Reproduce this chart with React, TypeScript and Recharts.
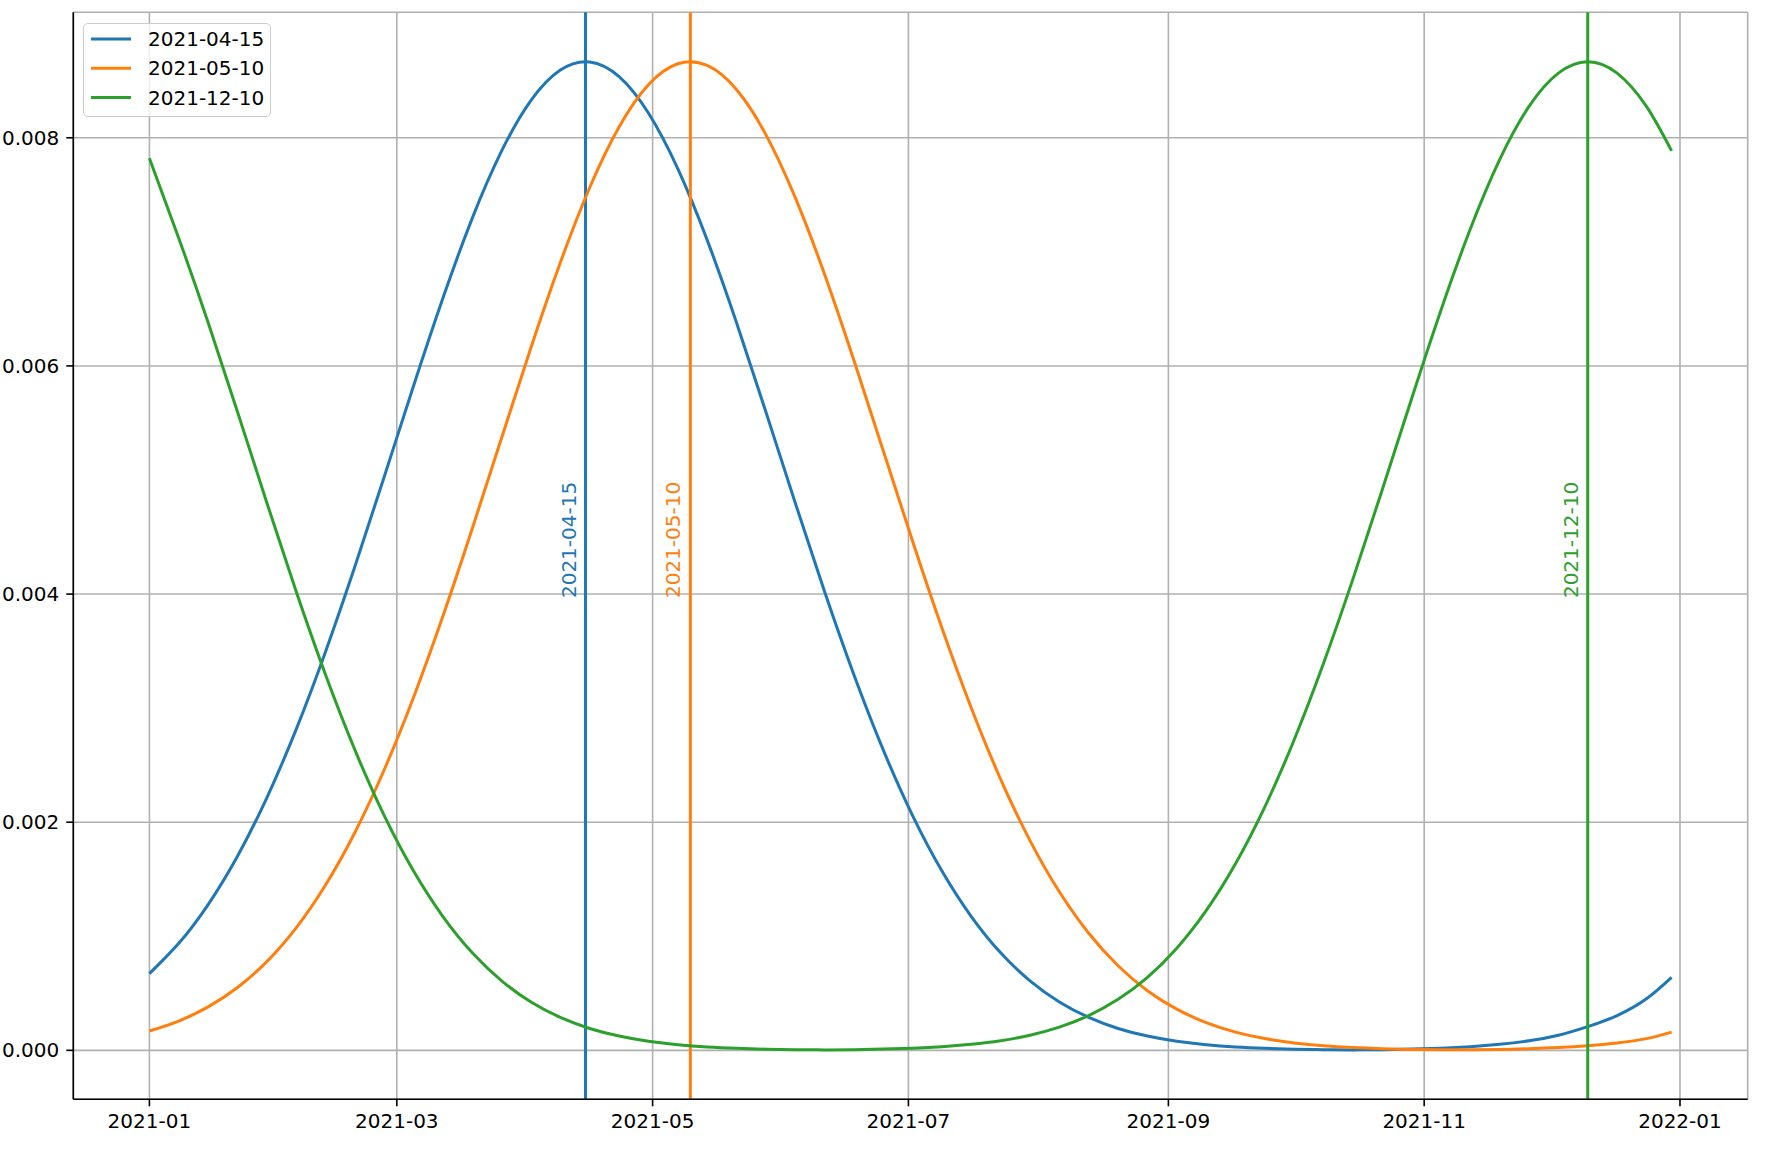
import React from 'react';
import {
  LineChart,
  Line,
  XAxis,
  YAxis,
  CartesianGrid,
  ReferenceLine,
  ReferenceDot,
  Legend,
} from 'recharts';

// ---- data ----
const dates = [
  '2021-01-01', '2021-01-08', '2021-01-15', '2021-01-22', '2021-01-29',
  '2021-02-05', '2021-02-12', '2021-02-19', '2021-02-26', '2021-03-05',
  '2021-03-12', '2021-03-19', '2021-03-26', '2021-04-02', '2021-04-09',
  '2021-04-16', '2021-04-23', '2021-04-30', '2021-05-07', '2021-05-14',
  '2021-05-21', '2021-05-28', '2021-06-04', '2021-06-11', '2021-06-18',
  '2021-06-25', '2021-07-02', '2021-07-09', '2021-07-16', '2021-07-23',
  '2021-07-30', '2021-08-06', '2021-08-13', '2021-08-20', '2021-08-27',
  '2021-09-03', '2021-09-10', '2021-09-17', '2021-09-24', '2021-10-01',
  '2021-10-08', '2021-10-15', '2021-10-22', '2021-10-29', '2021-11-05',
  '2021-11-12', '2021-11-19', '2021-11-26', '2021-12-03', '2021-12-10',
  '2021-12-17', '2021-12-24', '2021-12-30',
];

const seriesApr15 = [
  0.000673, 0.000938, 0.001278, 0.001702, 0.002214,
  0.002814, 0.003495, 0.004241, 0.005028, 0.005826,
  0.006595, 0.007296, 0.007885, 0.008328, 0.008594,
  0.008665, 0.008537, 0.008218, 0.00773, 0.007105,
  0.006381, 0.005599, 0.004801, 0.004022, 0.003293,
  0.002634, 0.002058, 0.001572, 0.001173, 0.000855,
  0.000609, 0.000424, 0.000289, 0.000192, 0.000125,
  0.000079, 0.000049, 0.00003, 0.000018, 0.00001,
  0.000006, 0.000004, 0.000006, 0.000011, 0.000019,
  0.000032, 0.000053, 0.000084, 0.000133, 0.000208,
  0.000305, 0.000452, 0.00064,
];

const seriesMay10 = [
  0.00017, 0.000257, 0.000381, 0.000551, 0.000778,
  0.001074, 0.001449, 0.00191, 0.00246, 0.003096,
  0.003807, 0.004575, 0.005371, 0.006161, 0.006906,
  0.007564, 0.008095, 0.008465, 0.008649, 0.008634,
  0.008423, 0.008028, 0.007477, 0.006804, 0.00605,
  0.005257, 0.004463, 0.003702, 0.003001, 0.002376,
  0.001839, 0.00139, 0.001027, 0.000742, 0.000523,
  0.000361, 0.000243, 0.00016, 0.000103, 0.000065,
  0.00004, 0.000024, 0.000014, 0.000008, 0.000005,
  0.000005, 0.000008, 0.000014, 0.000024, 0.00004,
  0.000065, 0.000103, 0.00016,
];

const seriesDec10 = [
  0.00782, 0.00712, 0.006381, 0.005599, 0.004801,
  0.004022, 0.003293, 0.002634, 0.002058, 0.001572,
  0.001173, 0.000855, 0.000609, 0.000424, 0.000289,
  0.000192, 0.000125, 0.000079, 0.000049, 0.00003,
  0.000018, 0.00001, 0.000006, 0.000004, 0.000006,
  0.000011, 0.000019, 0.000032, 0.000053, 0.000084,
  0.000133, 0.000204, 0.000305, 0.000447, 0.00064,
  0.000896, 0.001225, 0.001636, 0.002135, 0.002723,
  0.003393, 0.004131, 0.004914, 0.005713, 0.006489,
  0.007201, 0.007809, 0.008275, 0.008567, 0.008667,
  0.008567, 0.008275, 0.007885,
];

const seriesNames = ['2021-04-15', '2021-05-10', '2021-12-10'];
const seriesColors = ['#1f77b4', '#ff7f0e', '#2ca02c'];
const markerDates = ['2021-04-15', '2021-05-10', '2021-12-10'];

const xTickDates = [
  '2021-01-01', '2021-03-01', '2021-05-01', '2021-07-01',
  '2021-09-01', '2021-11-01', '2022-01-01',
];
const xTickLabels = ['2021-01', '2021-03', '2021-05', '2021-07', '2021-09', '2021-11', '2022-01'];
const yTicks = [0, 0.002, 0.004, 0.006, 0.008];
const labelLevel = 0.004;

// ---- derived structures ----
const toTime = (s: string) => Date.parse(s + 'T00:00:00Z');
const seriesValues = [seriesApr15, seriesMay10, seriesDec10];
const seriesKeys = ['s0', 's1', 's2'];

const data = dates.map((d, i) => ({
  t: toTime(d),
  s0: seriesApr15[i],
  s1: seriesMay10[i],
  s2: seriesDec10[i],
}));

const xs = data.map((r) => r.t);
const xMin = Math.min(...xs);
const xMax = Math.max(...xs);
const xPad = (xMax - xMin) * 0.05;
const xDomain: [number, number] = [xMin - xPad, xMax + xPad];

const allY = seriesValues.flat();
const yMin = Math.min(...allY);
const yMax = Math.max(...allY);
const yPad = (yMax - yMin) * 0.05;
const yDomain: [number, number] = [yMin - yPad, yMax + yPad];

const xTicks = xTickDates.map(toTime);
const FONT = 'DejaVu Sans, sans-serif';

const axisLineStyle = { stroke: '#000', strokeWidth: 1.6 };
const tickLineStyle = { stroke: '#000', strokeWidth: 1.6 };

const makeMarkerLabel = (color: string, text: string) => (props: any) => {
  const { cx, cy } = props;
  if (cx == null || cy == null) return <g />;
  const x = cx - 10;
  const y = cy + 4;
  return (
    <text
      x={x}
      y={y}
      transform={`rotate(-90 ${x} ${y})`}
      fill={color}
      fontSize={20}
      fontFamily={FONT}
      textAnchor="start"
    >
      {text}
    </text>
  );
};

const LegendBox = () => (
  <div
    style={{
      width: 188,
      height: 94,
      boxSizing: 'border-box',
      border: '1.3px solid #cccccc',
      borderRadius: 5,
      background: 'rgba(255,255,255,0.8)',
      position: 'relative',
    }}
  >
    <svg width={188} height={94} style={{ position: 'absolute', left: -1, top: -1 }}>
      {seriesNames.map((name, i) => {
        const cyRow = 16 + i * 29.2;
        return (
          <g key={name}>
            <line x1={8} x2={48} y1={cyRow} y2={cyRow} stroke={seriesColors[i]} strokeWidth={3} />
            <text x={65} y={cyRow + 7.2} fontSize={20} fontFamily={FONT} fill="#000">
              {name}
            </text>
          </g>
        );
      })}
    </svg>
  </div>
);

export default function App() {
  const children: React.ReactNode[] = [];
  seriesKeys.forEach((key, i) => {
    children.push(
      <Line
        key={'line-' + key}
        type="natural"
        dataKey={key}
        name={seriesNames[i]}
        stroke={seriesColors[i]}
        strokeWidth={3}
        dot={false}
        activeDot={false}
        isAnimationActive={false}
      />
    );
    children.push(
      <ReferenceLine
        key={'vline-' + key}
        x={toTime(markerDates[i])}
        stroke={seriesColors[i]}
        strokeWidth={3}
      />
    );
    children.push(
      <ReferenceDot
        key={'label-' + key}
        x={toTime(markerDates[i])}
        y={labelLevel}
        r={0}
        shape={makeMarkerLabel(seriesColors[i], markerDates[i])}
      />
    );
  });

  return (
    <div style={{ position: 'absolute', left: 0, top: 0, width: 1773, height: 1166 }}>
      <LineChart
        width={1773}
        height={1166}
        data={data}
        margin={{ top: 12.3, right: 25.3, left: 8, bottom: 26.7 }}
        style={{ fontFamily: FONT }}
      >
        <CartesianGrid stroke="#b0b0b0" strokeWidth={1.6} />
        <XAxis
          dataKey="t"
          type="number"
          scale="linear"
          domain={xDomain}
          allowDataOverflow
          ticks={xTicks}
          interval={0}
          tickFormatter={(v: number) => {
            const idx = xTicks.indexOf(v);
            return idx >= 0 ? xTickLabels[idx] : '';
          }}
          height={40}
          tickSize={7}
          tickMargin={7}
          axisLine={axisLineStyle}
          tickLine={tickLineStyle}
          tick={{ fill: '#000', fontSize: 20, fontFamily: FONT }}
        />
        <XAxis
          xAxisId="top"
          orientation="top"
          dataKey="t"
          type="number"
          domain={xDomain}
          allowDataOverflow
          height={0}
          tick={false}
          tickLine={false}
          axisLine={axisLineStyle}
        />
        <YAxis
          type="number"
          domain={yDomain}
          allowDataOverflow
          ticks={yTicks}
          interval={0}
          tickFormatter={(v: number) => v.toFixed(3)}
          width={65.3}
          tickSize={7}
          tickMargin={7}
          axisLine={axisLineStyle}
          tickLine={tickLineStyle}
          tick={{ fill: '#000', fontSize: 20, fontFamily: FONT }}
        />
        <YAxis
          yAxisId="right"
          orientation="right"
          type="number"
          domain={yDomain}
          allowDataOverflow
          width={0}
          tick={false}
          tickLine={false}
          axisLine={axisLineStyle}
        />
        {children}
        <Legend
          layout="horizontal"
          align="center"
          verticalAlign="middle"
          wrapperStyle={{ top: 22.7, left: 83.3, width: 188, height: 94, right: 'auto', bottom: 'auto' }}
          content={() => <LegendBox />}
        />
      </LineChart>
    </div>
  );
}
